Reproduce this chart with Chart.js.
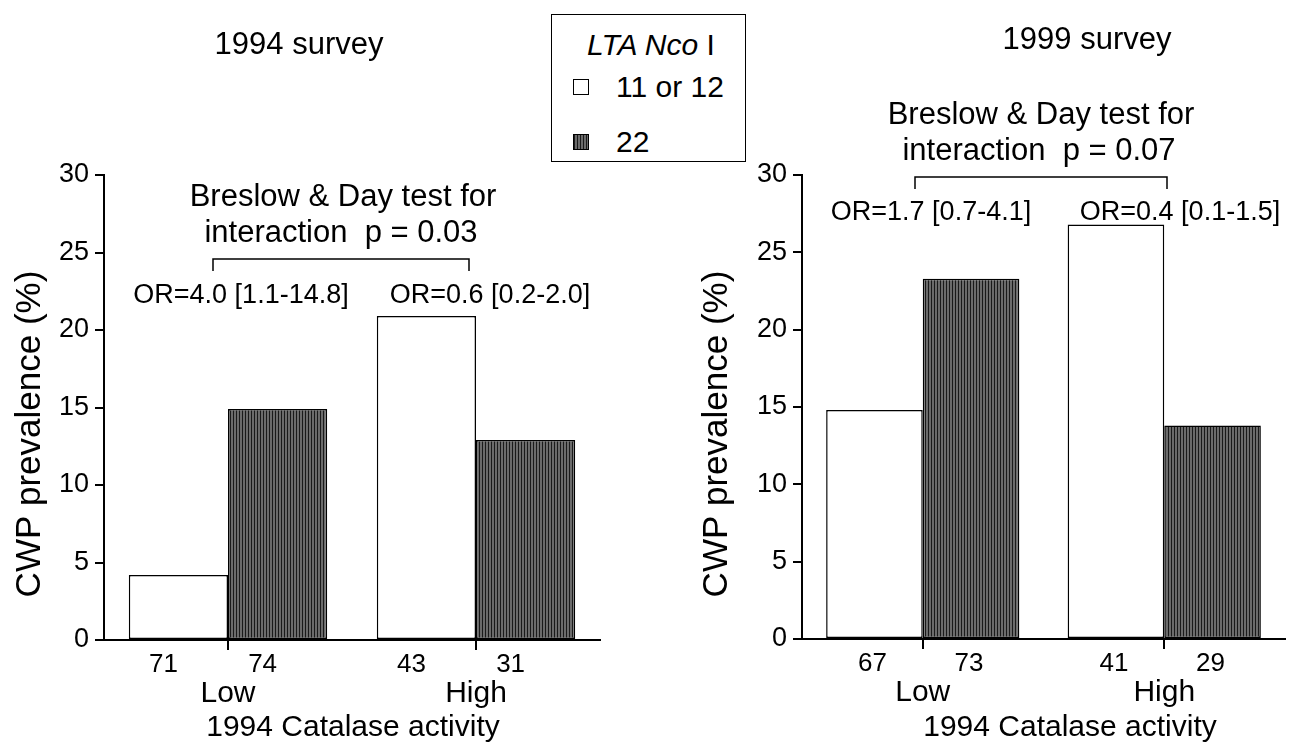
<!DOCTYPE html>
<html lang="en">
<head>
<meta charset="UTF-8">
<title>CWP prevalence by catalase activity and LTA Nco I genotype</title>
<script src="https://cdn.jsdelivr.net/npm/chart.js@4/dist/chart.umd.min.js"></script>
<style>
  html, body { margin: 0; padding: 0; background: #fff; }
  body { width: 1295px; height: 749px; position: relative; overflow: hidden;
         font-family: "Liberation Sans", Arial, sans-serif; color: #000; }
  canvas { position: absolute; top: 0; }
  #left { left: 0; }
  #right { left: 650px; }
  /* legend box sits between the two panels */
  #legend { position: absolute; left: 551px; top: 14px; width: 193px; height: 146px;
            border: 1.5px solid #000; background: #fff; font-size: 30px; }
  #legend .head { position: absolute; left: 35px; top: 13px; white-space: nowrap; }
  #legend .item { position: absolute; left: 21px; white-space: nowrap; }
  #legend .sw { display: inline-block; width: 14px; height: 14px; border: 1px solid #000;
                margin-right: 27px; vertical-align: 2px; }
  #legend .sw.dark { background: repeating-linear-gradient(90deg, #1a1a1a 0 1px, #6b6b6b 1px 3px); }
</style>
</head>
<body>
<canvas id="left" width="650" height="749"></canvas>
<canvas id="right" width="645" height="749"></canvas>
<div id="legend">
  <div class="head"><i>LTA Nco</i> I</div>
  <div class="item" style="top:55px"><span class="sw"></span><span id="lg0"></span></div>
  <div class="item" style="top:110px"><span class="sw dark"></span><span id="lg1"></span></div>
</div>

<script>
// ---- data ----
const categories = ['Low', 'High'];
const genotypes = ['11 or 12', '22'];

// 1994 survey, CWP prevalence (%)
const prev1994_1112 = [4.2, 20.9];
const prev1994_22 = [14.9, 12.9];
const n1994_1112 = [71, 43];
const n1994_22 = [74, 31];
const or1994 = ['OR=4.0 [1.1-14.8]', 'OR=0.6 [0.2-2.0]'];
const p1994 = 'p = 0.03';

// 1999 survey
const prev1999_1112 = [14.8, 26.8];
const prev1999_22 = [23.3, 13.8];
const n1999_1112 = [67, 41];
const n1999_22 = [73, 29];
const or1999 = ['OR=1.7 [0.7-4.1]', 'OR=0.4 [0.1-1.5]'];
const p1999 = 'p = 0.07';

const yMin = 0, yMax = 30, yStep = 5;

const FONT = '"Liberation Sans", Arial, sans-serif';

document.getElementById('lg0').textContent = genotypes[0];
document.getElementById('lg1').textContent = genotypes[1];

function stripes() {
    const c = document.createElement('canvas');
    c.width = 3; c.height = 4;
    const g = c.getContext('2d');
    g.fillStyle = '#6b6b6b';
    g.fillRect(0, 0, 3, 4);
    g.fillStyle = '#1a1a1a';
    g.fillRect(2, 0, 1, 4);
    return g.createPattern(c, 'repeat');
}

// text and bracket drawn on top of each panel (page coordinates, shifted by canvas offset)
const annotate = {
    id: 'annotate',
    afterDraw(chart, args, o) {
        const ctx = chart.ctx;
        const dx = -o.left;
        ctx.save();
        ctx.fillStyle = '#000';
        ctx.strokeStyle = '#000';
        ctx.textAlign = 'center';
        ctx.textBaseline = 'middle';

        ctx.font = '31px ' + FONT;
        ctx.fillText(o.title, o.titleX + dx, o.titleY);

        ctx.font = '31px ' + FONT;
        ctx.fillText('Breslow & Day test for', o.testX + dx, o.testY);
        ctx.fillText('interaction  ' + o.p, o.testX - 2 + dx, o.testY + 36);

        // bracket
        ctx.lineWidth = 1.5;
        ctx.beginPath();
        ctx.moveTo(o.brL + dx, o.brY + 12);
        ctx.lineTo(o.brL + dx, o.brY);
        ctx.lineTo(o.brR + dx, o.brY);
        ctx.lineTo(o.brR + dx, o.brY + 12);
        ctx.stroke();

        ctx.font = '27px ' + FONT;
        ctx.fillText(o.or[0], o.orX[0] + dx, o.orY);
        ctx.fillText(o.or[1], o.orX[1] + dx, o.orY);

        // group sizes under each bar
        ctx.font = '26px ' + FONT;
        chart.data.datasets.forEach((ds, i) => {
            chart.getDatasetMeta(i).data.forEach((bar, j) => {
                ctx.fillText(String(o.n[i][j]), bar.x + o.nShift, chart.chartArea.bottom + 25);
            });
        });

        ctx.font = '30px ' + FONT;
        ctx.fillText('1994 Catalase activity', o.xTitleX + dx, 728);

        ctx.translate(o.yTitleX + dx, 434);
        ctx.rotate(-Math.PI / 2);
        ctx.font = '35px ' + FONT;
        ctx.fillText('CWP prevalence (%)', 0, 0);
        ctx.restore();
    }
};

function makeChart(id, a, b, cfg) {
    return new Chart(document.getElementById(id), {
        type: 'bar',
        data: {
            labels: categories,
            datasets: [
                { label: genotypes[0], data: a, backgroundColor: '#fff', borderColor: '#000',
                  borderWidth: 1.5, borderSkipped: false },
                { label: genotypes[1], data: b, backgroundColor: stripes(), borderColor: '#000',
                  borderWidth: 1.5, borderSkipped: false }
            ]
        },
        options: {
            responsive: false,
            animation: false,
            layout: { padding: { top: 175, right: cfg.padRight, left: 0, bottom: 0 } },
            datasets: { bar: { categoryPercentage: 0.8, barPercentage: 1.0 } },
            plugins: {
                legend: { display: false },
                tooltip: { enabled: false },
                annotate: cfg
            },
            scales: {
                x: {
                    grid: { offset: false, drawOnChartArea: false, color: '#000', lineWidth: 2, tickLength: 10 },
                    border: { color: '#000', width: 2 },
                    ticks: { color: '#000', font: { size: 30, family: FONT }, padding: 26, maxRotation: 0 },
                    afterFit(s) { s.height = cfg.xHeight; }
                },
                y: {
                    min: yMin, max: yMax,
                    grid: { drawOnChartArea: false, color: '#000', lineWidth: 2, tickLength: 9 },
                    border: { color: '#000', width: 2 },
                    ticks: { stepSize: yStep, color: '#000', font: { size: 27, family: FONT }, padding: 6 },
                    afterFit(s) { s.width = cfg.yWidth; }
                }
            }
        },
        plugins: [annotate]
    });
}

makeChart('left', prev1994_1112, prev1994_22, {
    left: 0, padRight: 50, yWidth: 104, xHeight: 109,
    title: '1994 survey', titleX: 299, titleY: 45,
    testX: 343, testY: 197, p: p1994,
    brL: 213, brR: 469, brY: 259,
    or: or1994, orX: [241, 490], orY: 296,
    n: [n1994_1112, n1994_22], nShift: -15,
    xTitleX: 353, yTitleX: 30
});

makeChart('right', prev1999_1112, prev1999_22, {
    left: 650, padRight: 10, yWidth: 152, xHeight: 110,
    title: '1999 survey', titleX: 1087, titleY: 40,
    testX: 1041, testY: 115, p: p1999,
    brL: 915, brR: 1167, brY: 177,
    or: or1999, orX: [931, 1180], orY: 213,
    n: [n1999_1112, n1999_22], nShift: -2,
    xTitleX: 1070, yTitleX: 717
});
</script>
</body>
</html>
